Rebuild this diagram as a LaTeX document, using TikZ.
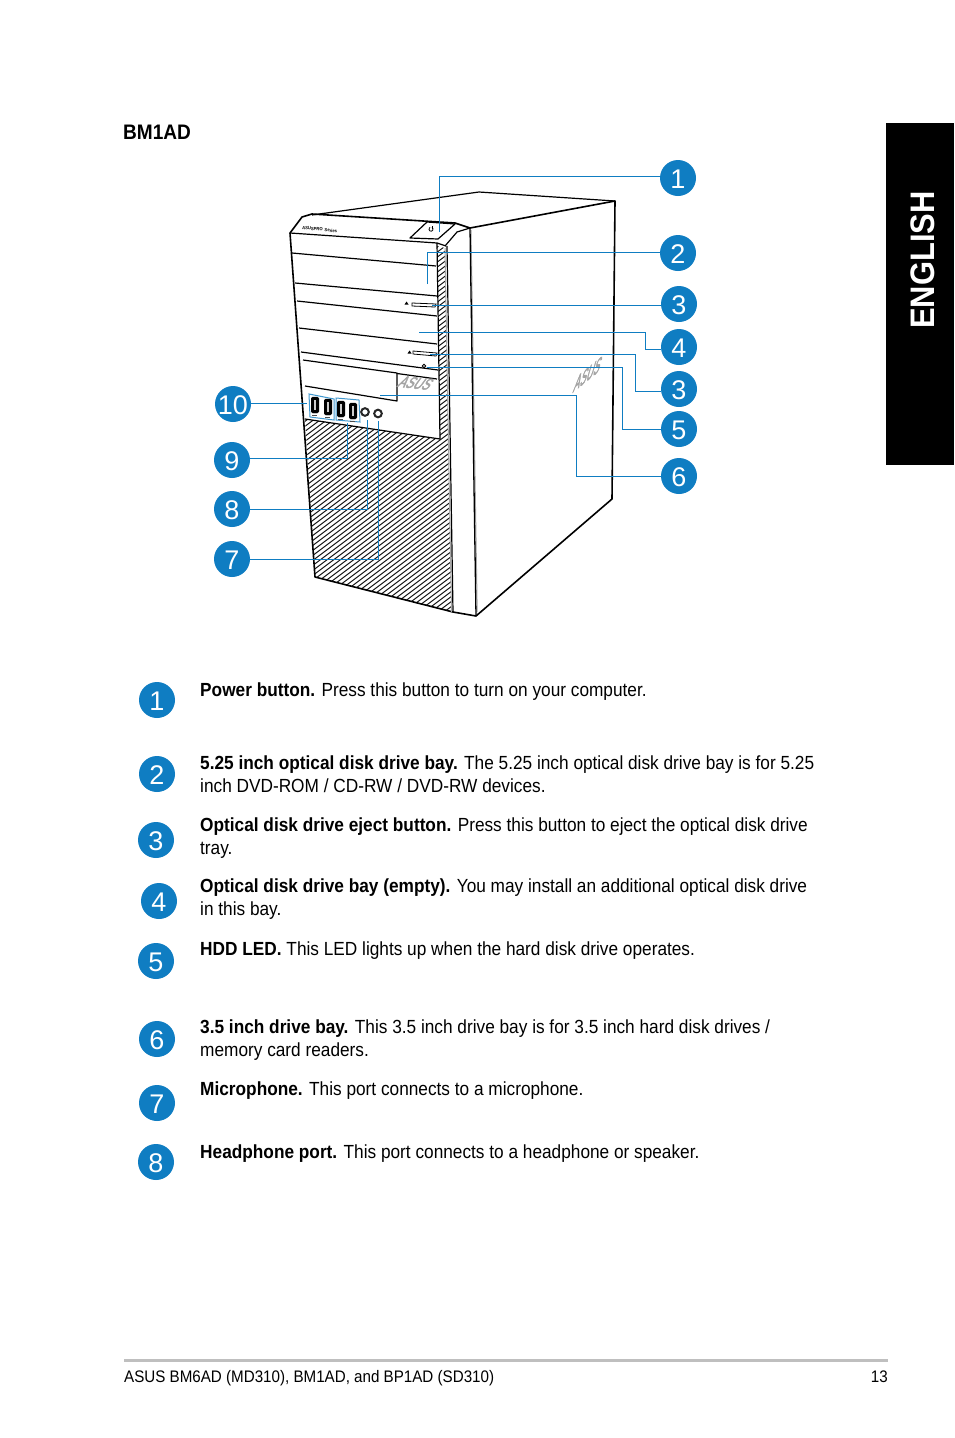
\documentclass[tikz,border=0pt]{standalone}
\usepackage{fontspec}
\setmainfont[FakeStretch=0.908]{Liberation Sans}
\newfontfamily\digfont{Liberation Sans}
\newfontfamily\logofont[FakeBold=3]{Liberation Sans}
\definecolor{leadblue}{HTML}{0F7DC2}
\definecolor{logogray}{HTML}{A4A4A4}
\newcommand{\dgt}[1]{\raisebox{-1pt}[\height][\depth]{#1}}
\tikzset{
  x=1pt,y=-1pt,
  badge/.style={circle,fill=leadblue,text=white,minimum size=36pt,inner sep=0pt,font=\digfont\fontsize{27}{27}\selectfont},
  lead/.style={draw=leadblue,line width=1pt},
  body/.style={line width=1.2pt,black,line join=round},
  thin line/.style={line width=0.8pt,black},
  soft line/.style={line width=1pt,black!35},
  desc/.style={anchor=base west,inner sep=0pt,font=\fontsize{19}{19}\selectfont},
  foottext/.style={inner sep=0pt,font=\fontsize{16.7}{16.7}\selectfont},
  portbox/.style={draw=leadblue!80,line width=1pt,fill=white},
  port/.style={fill=black,rounded corners=1.5pt},
  hatchline/.style={line width=1pt,black!90},
  logotext/.style={inner sep=0pt,text=logogray,font=\logofont\fontsize{12}{12}\selectfont},
}
\begin{document}
\begin{tikzpicture}
\useasboundingbox (0,0) rectangle (954,1438);
\fill[white] (0,0) rectangle (954,1438);
% language tab
\fill[black] (886,123) rectangle (954,465);
\node[text=white,rotate=90,inner sep=0pt,font=\bfseries\fontsize{34}{34}\selectfont] (lang) at (923,260) {ENGLISH};
\node[anchor=base west,inner sep=0pt,font=\bfseries\fontsize{21}{21}\selectfont] (title) at (123,139) {BM1AD};
% hatching: vent and the strip above it
\begin{scope}
\clip (437,246) -- (445,248) -- (451.5,612) -- (315,577) -- (305,419) -- (440,439) -- cycle;
\foreach \i in {-15,...,76} {\draw[hatchline] (300,420+5*\i) -- ++(160,-120);}
\end{scope}
% tower outline
\draw[body,line width=1.6pt] (290,233) -- (302,217) -- (312,214) -- (455,223) -- (470,228) -- (615,201) -- (612,499) -- (476,616) -- (453,612) -- (315,577) -- cycle;
\draw[body] (312,215) -- (479,192) -- (615,201);
\draw[soft line] (471,230) -- (477.2,612);
\draw[body,line width=1.3pt] (470,228) -- (476,616);
\draw[body] (445,246) -- (457,232) -- (470,228);
\draw[body] (290,233) -- (437,243);
\draw[body] (437,243) -- (446,246);
\draw[soft line] (445,248) -- (451.5,612);
\draw[body] (447,246) -- (453,612);
% power button
\draw[body,fill=white] (410,238) -- (427,222) -- (455,224) -- (438,239) -- cycle;
\draw[thin line] (432,227.5) arc (-60:240:2);
\draw[thin line] (432,226) -- (432,229);
\node[anchor=west,inner sep=0pt,font=\bfseries\fontsize{4.6}{5}\selectfont,rotate=-6] (model) at (302,227.5) {ASUSPRO \,Series};
% bays
\draw[body] (292,253) -- (436,266);
\draw[body] (295,283) -- (437,296);
\draw[body] (297,301) -- (437,316);
\draw[body] (299,328) -- (437,344);
\draw[body] (301,352) -- (438,370);
\draw[body] (303,360) -- (397,373) -- (397,401) -- (305,386);
\draw[body] (397,373.5) -- (437,379);
\draw[body] (437,243) -- (440,439);
\draw[body] (305,419) -- (440,439);
% eject buttons, slots and LED
\fill (404.5,304.5) -- (406.5,301.5) -- (408.5,304.5) -- cycle;
\draw[thin line] (412,303) -- (436,304) -- (435,307) -- (412,306) -- cycle;
\fill (407.5,353.5) -- (409.5,350.5) -- (411.5,353.5) -- cycle;
\draw[thin line] (413,351) -- (437,353) -- (436,356) -- (413,354) -- cycle;
\draw[thin line] (424,366) circle (1.8);
% logos
\node[logotext,cm={.95,-.1,.93,1.28,(0,0)}] (frontlogo) at (416,383) {ASUS};
\node[logotext,cm={.8,.645,.58,1.98,(0,0)}] (sidelogo) at (588,374) {ASUS};
% ports
\draw[portbox] (309,394) -- (334,399) -- (334,420) -- (310,417) -- cycle;
\draw[portbox] (336,398) -- (359,400) -- (360,422) -- (336,420) -- cycle;
\foreach \x/\y in {315/405,328/407,341/409,353/411} {
  \draw[port] (\x-3.8,\y-8) rectangle (\x+3.8,\y+8);
  \fill[white!60!gray] (\x-1.2,\y-5) rectangle (\x+1.2,\y+5);
  \fill[black!70] (\x-3,\y+9.5) rectangle (\x+2,\y+11);
}
\draw[black!85,line width=2pt] (365,412) circle (3.8);
\draw[black!85,line width=2pt] (378,413.5) circle (3.8);
% badges
\node[badge] (c1) at (678,178) {\dgt{1}};
\node[badge] (c2) at (678,253) {\dgt{2}};
\node[badge] (c3) at (679,304) {\dgt{3}};
\node[badge] (c4) at (679,347) {\dgt{4}};
\node[badge] (c3b) at (679,389) {\dgt{3}};
\node[badge] (c5) at (679,429) {\dgt{5}};
\node[badge] (c6) at (679,476) {\dgt{6}};
\node[badge] (c10) at (233,404) {\dgt{10}};
\node[badge] (c9) at (232,460) {\dgt{9}};
\node[badge] (c8) at (232,509) {\dgt{8}};
\node[badge] (c7) at (232,559) {\dgt{7}};
% anchors
\coordinate (s1) at (439,232); \coordinate (b1) at (439,176);
\coordinate (s2) at (427,284); \coordinate (b2) at (427,252);
\coordinate (s3) at (432,305);
\coordinate (s4) at (419,332); \coordinate (b4) at (645,332); \coordinate (e4) at (645,349);
\coordinate (s3b) at (430,354); \coordinate (b3b) at (635,354); \coordinate (e3b) at (635,391);
\coordinate (s5) at (427,367); \coordinate (b5) at (622,367); \coordinate (e5) at (622,429);
\coordinate (s6) at (380,395); \coordinate (b6) at (576,395); \coordinate (e6) at (576,476);
\coordinate (s10) at (307,403);
\coordinate (s9) at (347,423); \coordinate (b9) at (347,458);
\coordinate (s8) at (367,420); \coordinate (b8) at (367,509);
\coordinate (s7) at (378,421); \coordinate (b7) at (378,559);
% leaders
\draw[lead] (s1) -- (b1) -- (b1 -| c1.west);
\draw[lead] (s2) -- (b2) -- (b2 -| c2.west);
\draw[lead] (s3) -- (s3 -| c3.west);
\draw[lead] (s4) -- (b4) -- (e4) -- (e4 -| c4.west);
\draw[lead] (s3b) -- (b3b) -- (e3b) -- (e3b -| c3b.west);
\draw[lead] (s5) -- (b5) -- (e5) -- (e5 -| c5.west);
\draw[lead] (s6) -- (b6) -- (e6) -- (e6 -| c6.west);
\draw[lead] (s10) -- (s10 -| c10.east);
\draw[lead] (s9) -- (b9) -- (b9 -| c9.east);
\draw[lead] (s8) -- (b8) -- (b8 -| c8.east);
\draw[lead] (s7) -- (b7) -- (b7 -| c7.east);
% legend
\node[badge] (l1) at (157,700) {\dgt{1}};
\node[badge] (l2) at (157,774) {\dgt{2}};
\node[badge] (l3) at (156,840) {\dgt{3}};
\node[badge] (l4) at (159,901) {\dgt{4}};
\node[badge] (l5) at (156,961) {\dgt{5}};
\node[badge] (l6) at (157,1039) {\dgt{6}};
\node[badge] (l7) at (157,1103) {\dgt{7}};
\node[badge] (l8) at (156,1162) {\dgt{8}};
\node[desc] (t1) at (200,696) {\textbf{Power button.} Press this button to turn on your computer.};
\node[desc] (t2a) at (200,769) {\textbf{5.25 inch optical disk drive bay.} The 5.25 inch optical disk drive bay is for 5.25};
\node[desc] (t2b) at (200,792) {inch DVD-ROM / CD-RW / DVD-RW devices.};
\node[desc] (t3a) at (200,831) {\textbf{Optical disk drive eject button.} Press this button to eject the optical disk drive};
\node[desc] (t3b) at (200,854) {tray.};
\node[desc] (t4a) at (200,892) {\textbf{Optical disk drive bay (empty).} You may install an additional optical disk drive};
\node[desc] (t4b) at (200,915) {in this bay.};
\node[desc] (t5) at (200,955) {\textbf{HDD LED.} This LED lights up when the hard disk drive operates.};
\node[desc] (t6a) at (200,1033) {\textbf{3.5 inch drive bay.} This 3.5 inch drive bay is for 3.5 inch hard disk drives /};
\node[desc] (t6b) at (200,1056) {memory card readers.};
\node[desc] (t7) at (200,1095) {\textbf{Microphone.} This port connects to a microphone.};
\node[desc] (t8) at (200,1158) {\textbf{Headphone port.} This port connects to a headphone or speaker.};
% footer
\draw[line width=3pt,black!25] (124,1360) -- (888,1360);
\node[foottext,anchor=base west] (foot) at (124,1382) {ASUS BM6AD (MD310), BM1AD, and BP1AD (SD310)};
\node[foottext,anchor=base east] (page) at (888,1382) {13};
\end{tikzpicture}
\end{document}
